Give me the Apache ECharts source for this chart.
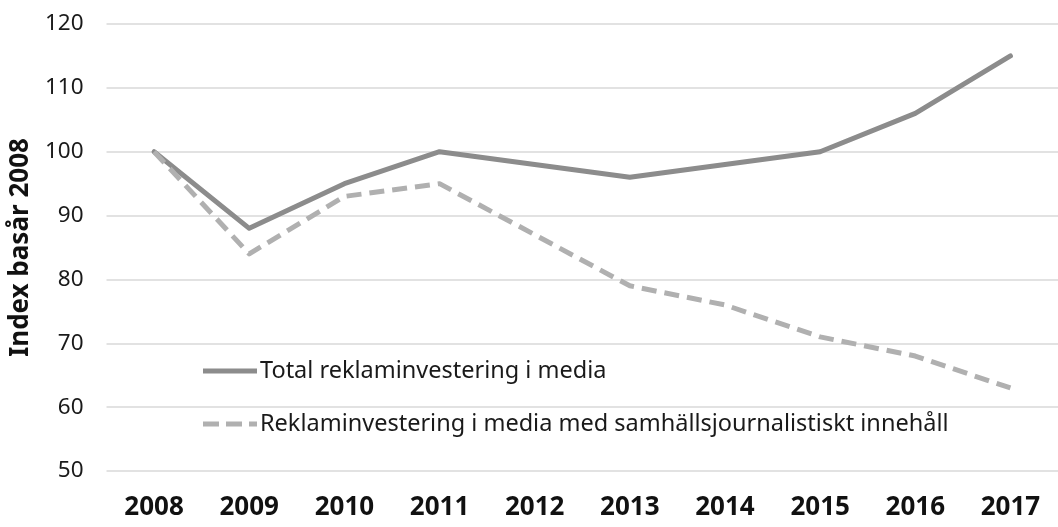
<!DOCTYPE html>
<html><head><meta charset="utf-8">
<script src="https://cdn.jsdelivr.net/npm/echarts@6/dist/echarts.min.js"></script>
<style>html,body{margin:0;padding:0;background:#fff}#c{width:1058px;height:527px}</style>
</head><body><div id="c"></div>
<script>
const years = ['2008','2009','2010','2011','2012','2013','2014','2015','2016','2017'];
const totalValues = [100, 88, 95, 100, 98, 96, 98, 100, 106, 115];
const journalismValues = [100, 84, 93, 95, 87, 79, 76, 71, 68, 63];
const seriesNames = ['Total reklaminvestering i media', 'Reklaminvestering i media med samhällsjournalistiskt innehåll'];
const yAxisName = 'Index basår 2008';

const font = "'Noto Sans', 'Open Sans', sans-serif";
const chart = echarts.init(document.getElementById('c'));
chart.setOption({
  animation: false,
  backgroundColor: '#fff',
  grid: { left: 102, right: 0, top: 24, bottom: 56 },
  legend: {
    orient: 'vertical', left: 198, top: 354, itemWidth: 54, itemHeight: 5, itemGap: 29,
    textStyle: { fontFamily: font, fontSize: 23.5, color: '#1a1a1a', padding: [0, 0, 0, -2] },
    data: [
      { name: seriesNames[0], icon: 'path://M0,0h54v5h-54z', itemStyle: { color: '#8c8c8c' } },
      { name: seriesNames[1], icon: 'path://M0,0h16v5h-16z M23,0h16v5h-16z M46,0h8v5h-8z', itemStyle: { color: '#b0b0b0' } }
    ]
  },
  xAxis: {
    type: 'category', data: years, boundaryGap: true,
    axisLine: { show: false }, axisTick: { show: false },
    axisLabel: { fontFamily: font, fontSize: 26, fontWeight: 'bold', color: '#111', margin: 24 }
  },
  yAxis: {
    type: 'value', min: 50, max: 120, interval: 10,
    name: yAxisName, nameLocation: 'middle', nameGap: 72,
    nameTextStyle: { fontFamily: font, fontSize: 26, fontWeight: 'bold', color: '#111' },
    axisLine: { show: false }, axisTick: { show: false },
    axisLabel: { fontFamily: font, fontSize: 22.5, color: '#1a1a1a', margin: 23 },
    splitLine: { lineStyle: { color: '#d9d9d9', width: 1.5 } }
  },
  series: [
    { name: seriesNames[0], type: 'line', data: totalValues, symbol: 'none',
      lineStyle: { color: '#8c8c8c', width: 5, cap: 'round', join: 'round' }, itemStyle: { color: '#8c8c8c' } },
    { name: seriesNames[1], type: 'line', data: journalismValues, symbol: 'none',
      lineStyle: { color: '#b0b0b0', width: 5, type: [15, 8], join: 'round' }, itemStyle: { color: '#b0b0b0' } }
  ]
});
</script></body></html>
